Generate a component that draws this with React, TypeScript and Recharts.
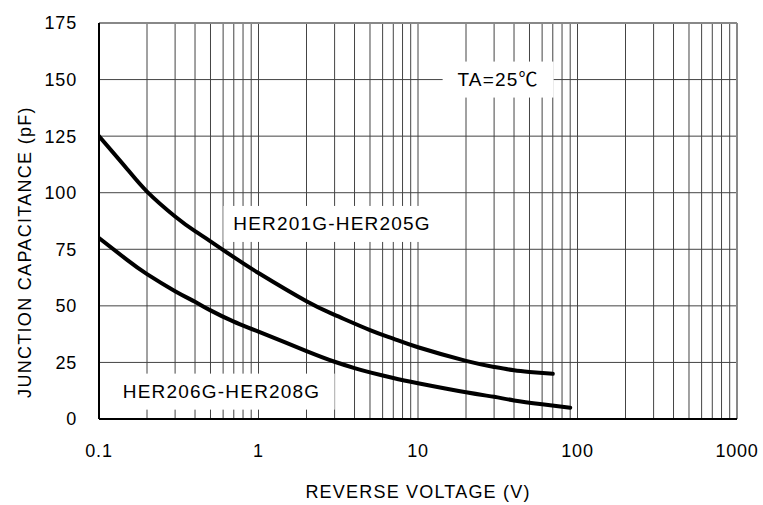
import { LineChart, Line, XAxis, YAxis, ReferenceLine, ReferenceDot, Label } from 'recharts';

// HER201G-HER205G
const upperVolts = [0.1, 0.15, 0.2, 0.3, 0.4, 0.5, 0.7, 1, 2, 3, 5, 7, 10, 20, 30, 40, 50, 70];
const upperCap = [125, 110.5, 100.5, 89.5, 83, 78.5, 71.5, 64.5, 52, 46, 39.3, 35.5, 31.7, 25.7, 23, 21.5, 20.8, 20];

// HER206G-HER208G
const lowerVolts = [0.1, 0.15, 0.2, 0.3, 0.4, 0.5, 0.7, 1, 2, 3, 4, 5, 7, 10, 20, 30, 40, 60, 90];
const lowerCap = [80, 70.3, 64, 56.5, 51.8, 48, 43, 38.6, 30, 25.3, 22.5, 20.6, 18.1, 15.8, 11.8, 9.8, 8.2, 6.5, 5];

const xTicks = [0.1, 1, 10, 100, 1000];
const yTicks = [0, 25, 50, 75, 100, 125, 150, 175];
const decades = [0.1, 1, 10, 100];
const steps = [1, 2, 3, 4, 5, 6, 7, 8, 9];

const noteTexts = ['TA=25\u2103', 'HER201G-HER205G', 'HER206G-HER208G'];
const noteX = [31.8, 2.89, 0.587];
const noteY = [150, 86.2, 12.1];

const upperData = upperVolts.map((v, i) => ({ v, c: upperCap[i] }));
const lowerData = lowerVolts.map((v, i) => ({ v, c: lowerCap[i] }));
const gridX = decades.flatMap((d) => steps.map((s) => +(d * s).toPrecision(3))).concat([1000]);
const gridY = [25, 50, 75, 100, 125, 150];

const FONT = '"Liberation Sans", Arial, "Noto Sans CJK SC", sans-serif';
const boxW = [111, 217, 226];

const NoteBox = (idx: number) => (props: any) => {
  const { cx, cy } = props;
  const w = boxW[idx];
  return (
    <g>
      <rect x={cx - w / 2} y={cy - 18} width={w} height={36} fill="#fff" />
      <text
        x={cx}
        y={cy}
        textAnchor="middle"
        dominantBaseline="central"
        fontFamily={FONT}
        fontSize={19}
        letterSpacing={1.2}
        fill="#000"
      >
        {noteTexts[idx]}
      </text>
    </g>
  );
};

export default function App() {
  return (
    <div style={{ position: 'fixed', left: 0, top: 0, background: '#fff' }}>
      <LineChart width={763} height={505} margin={{ top: 23, right: 26, left: 0, bottom: 0 }}>
        <XAxis
          dataKey="v"
          type="number"
          scale="log"
          domain={[0.1, 1000]}
          ticks={xTicks}
          allowDataOverflow
          height={86}
          tickLine={false}
          tickSize={0}
          tickMargin={25}
          axisLine={{ stroke: '#000', strokeWidth: 2 }}
          tick={{ fill: '#000', fontSize: 18, fontFamily: FONT, letterSpacing: 0.8 }}
        >
          <Label
            content={(p: any) => {
              const vb = p.viewBox;
              return (
                <text
                  x={vb.x + vb.width / 2}
                  y={vb.y + 73}
                  textAnchor="middle"
                  dominantBaseline="central"
                  fontFamily={FONT}
                  fontSize={18}
                  letterSpacing={1.2}
                  fill="#000"
                >
                  REVERSE VOLTAGE (V)
                </text>
              );
            }}
          />
        </XAxis>
        <YAxis
          type="number"
          domain={[0, 175]}
          ticks={yTicks}
          width={99}
          tickLine={false}
          tickSize={0}
          tickMargin={22}
          axisLine={{ stroke: '#000', strokeWidth: 2 }}
          tick={{ fill: '#000', fontSize: 18, fontFamily: FONT, letterSpacing: 0.8 }}
        >
          <Label
            content={(p: any) => {
              const vb = p.viewBox;
              const x = vb.x + 25;
              const y = vb.y + vb.height / 2 + 31;
              return (
                <text
                  x={x}
                  y={y}
                  transform={`rotate(-90 ${x} ${y})`}
                  textAnchor="middle"
                  dominantBaseline="central"
                  fontFamily={FONT}
                  fontSize={18}
                  letterSpacing={1.3}
                  fill="#000"
                >
                  JUNCTION CAPACITANCE (pF)
                </text>
              );
            }}
          />
        </YAxis>
        {gridX.map((g) => (
          <ReferenceLine key={`gx${g}`} x={g} stroke="#444" strokeWidth={1} />
        ))}
        {gridY.map((g) => (
          <ReferenceLine key={`gy${g}`} y={g} stroke="#444" strokeWidth={1} />
        ))}
        <ReferenceLine y={175} stroke="#888" strokeWidth={2} />
        <ReferenceLine x={1000} stroke="#888" strokeWidth={2} />
        {noteTexts.map((t, i) => (
          <ReferenceDot key={t} x={noteX[i]} y={noteY[i]} r={0} shape={NoteBox(i)} />
        ))}
        <Line
          data={upperData}
          dataKey="c"
          type="natural"
          stroke="#000"
          strokeWidth={4}
          strokeLinecap="round"
          dot={false}
          isAnimationActive={false}
        />
        <Line
          data={lowerData}
          dataKey="c"
          type="natural"
          stroke="#000"
          strokeWidth={4}
          strokeLinecap="round"
          dot={false}
          isAnimationActive={false}
        />
      </LineChart>
    </div>
  );
}
